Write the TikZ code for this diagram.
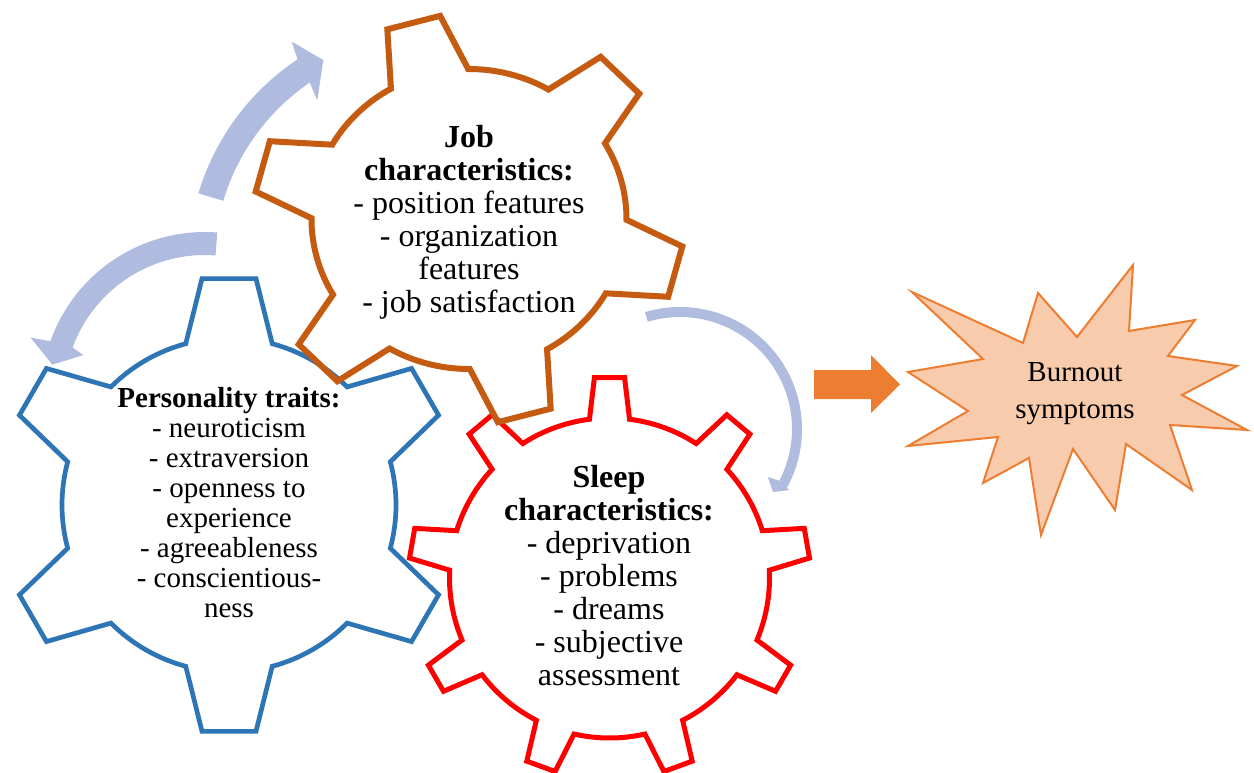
\documentclass[tikz,border=0pt]{standalone}
\usepackage{fontspec}
\setmainfont{Liberation Serif}

\definecolor{gearblue}{HTML}{2E75B6}
\definecolor{gearorange}{HTML}{C55A11}
\definecolor{gearred}{HTML}{FF0000}
\definecolor{cyclearrow}{HTML}{B0BCDF}
\definecolor{burstline}{HTML}{ED7D31}
\definecolor{burstfill}{HTML}{F8CBAD}

\tikzset{
  % gear outline (angles counter-clockwise): #1 teeth, #2 angle of first tooth,
  % #3 tip radius, #4 root radius, #5 tip half-angle, #6 base half-angle
  pics/gear/.style n args={6}{code={
    \draw[pic actions] ({#2-360/#1+#6}:#4)
      \foreach \k in {1,...,#1} {
        arc[start angle={#2+360/#1*(\k-2)+#6}, end angle={#2+360/#1*(\k-1)-#6}, radius=#4]
        -- ({#2+360/#1*(\k-1)-#6}:#4)
        -- ({#2+360/#1*(\k-1)-#5}:#3)
        -- ({#2+360/#1*(\k-1)+#5}:#3)
        -- ({#2+360/#1*(\k-1)+#6}:#4)
      } -- cycle;
  }},
  geartext/.style={align=center, inner sep=0pt, text=black},
  bigtext/.style={geartext, font=\fontsize{16}{16.5}\selectfont},
  midtext/.style={geartext, font=\fontsize{14.5}{15}\selectfont},
}

\begin{document}
\begin{tikzpicture}[x=0.5pt, y=0.5pt, yscale=-1]
\useasboundingbox (0,0) rectangle (1254,772);

% cycle arrows between the gears
\begin{scope}[shift={(434,264)}]
  \fill[cyclearrow] (196.7:220) arc[start angle=196.7, end angle=235.6, radius=220]
    -- (234.5:201) -- (241.5:232) -- (237.4:264) -- (236.3:246)
    arc[start angle=236.3, end angle=196.7, radius=246] -- cycle;
\end{scope}
\begin{scope}[shift={(205,396)}]
  \fill[cyclearrow] (274.3:141) arc[start angle=274.3, end angle=200.1, radius=141]
    -- (198.6:128.4) -- (191.6:155.8) -- (198.5:184) -- (199.5:164)
    arc[start angle=199.5, end angle=274.3, radius=164] -- cycle;
\end{scope}
\begin{scope}[shift={(680,429)}]
  \fill[cyclearrow] (253.3:112) arc[start angle=253.3, end angle=387.5, radius=112]
    -- (388.6:100) -- (394.1:112.3) -- (389:125.8) -- (389:122)
    arc[start angle=389, end angle=253.3, radius=122] -- cycle;
\end{scope}

% gears
\pic[draw=gearblue, line width=2.35pt] at (229,505) {gear={6}{90}{228}{167}{6.8}{15}};
\pic[draw=gearred, line width=2.5pt] at (609.5,578) {gear={9}{90}{201}{160}{4.3}{7.2}};
\pic[draw=gearorange, line width=3pt, xscale=1.05] at (469,219) {gear={6}{105}{205}{150}{7.3}{14.7}};

% gear labels
\node[midtext] (personality) at (229,503) {\textbf{Personality traits:}\\- neuroticism\\- extraversion\\- openness to\\experience\\- agreeableness\\- conscientious-\\ness};
\node[bigtext] (job) at (469,222) {\textbf{Job}\\\textbf{characteristics:}\\- position features\\- organization\\features\\- job satisfaction};
\node[bigtext] (sleep) at (609,576) {\textbf{Sleep}\\\textbf{characteristics:}\\- deprivation\\- problems\\- dreams\\- subjective\\assessment};

% block arrow to the outcome
\fill[burstline] (814,370) -- (871,370) -- (871,355) -- (900,384.5) -- (871,413) -- (871,399) -- (814,399) -- cycle;

% outcome burst
\filldraw[fill=burstfill, draw=burstline, line width=1pt, line join=miter]
  (912,292) -- (1023,343) -- (1038,293) -- (1077,337) -- (1133,265) -- (1129,331)
  -- (1195,320) -- (1168,356) -- (1237,366) -- (1182,395) -- (1247,430) -- (1170,425)
  -- (1192,490) -- (1126,444) -- (1115,510) -- (1073,449) -- (1041,535) -- (1029,458)
  -- (983,483) -- (998,437) -- (908,446) -- (968,411) -- (908,372) -- (983,359) -- cycle;
\node[geartext, font=\fontsize{14.5}{18.5}\selectfont] (burnout) at (1075,394) {Burnout\\symptoms};

\end{tikzpicture}
\end{document}
